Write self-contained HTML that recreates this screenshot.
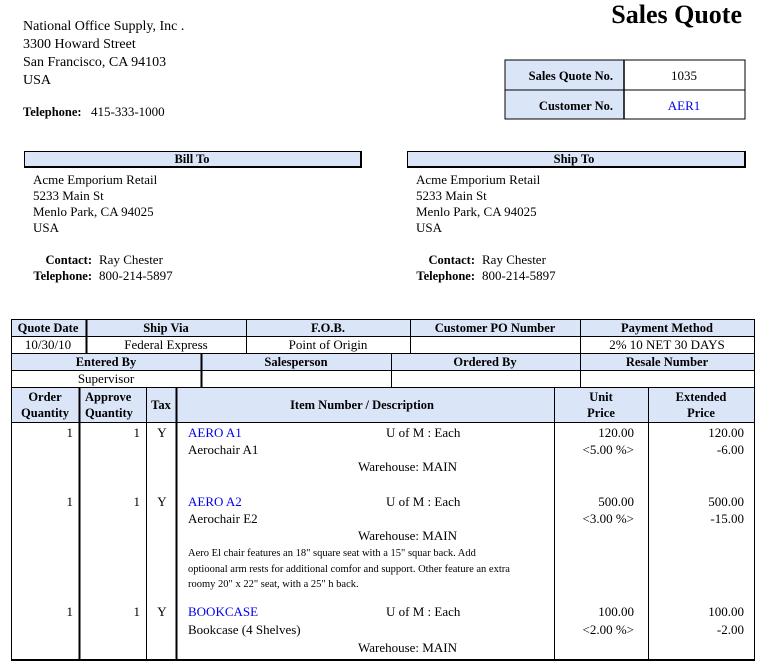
<!DOCTYPE html>
<html><head><meta charset="utf-8"><style>
html,body{margin:0;padding:0;background:#fff;width:768px;height:662px;overflow:hidden}
svg{display:block}
text{font-family:"Liberation Serif",serif;font-size:13px;fill:#000}
.b{font-weight:bold;font-size:12.5px}
.h{font-size:14px}
.bl{fill:#0000ee}
.s{font-size:10.5px}
</style></head><body>
<svg width="768" height="662" viewBox="0 0 768 662">
<text class="h" x="23" y="30">National Office Supply, Inc .</text>
<text class="h" x="23" y="48">3300  Howard Street</text>
<text class="h" x="23" y="66">San Francisco, CA 94103</text>
<text class="h" x="23" y="84">USA</text>
<text class="b" x="23" y="116">Telephone:</text>
<text x="91" y="116">415-333-1000</text>
<text x="742" y="23" text-anchor="end" style="font-size:26px;font-weight:bold">Sales Quote</text>
<rect x="505" y="60" width="119" height="59" fill="#dbe5f8"/>
<rect x="505" y="60" width="240" height="59" fill="none" stroke="#000" stroke-width="1"/>
<line x1="624" y1="60" x2="624" y2="119" stroke="#000" stroke-width="1.5"/>
<line x1="505" y1="90" x2="745" y2="90" stroke="#000"/>
<text class="b" x="613" y="80" text-anchor="end">Sales Quote No.</text>
<text class="b" x="613" y="110" text-anchor="end">Customer No.</text>
<text x="684" y="80" text-anchor="middle">1035</text>
<text class="bl" x="684" y="110" text-anchor="middle">AER1</text>
<rect x="24.5" y="151.5" width="336" height="15" fill="#dbe5f8" stroke="#000"/>
<line x1="361" y1="151" x2="361" y2="168" stroke="#000" stroke-width="2"/>
<line x1="24" y1="167" x2="362" y2="167" stroke="#000" stroke-width="2"/>
<text class="b" x="192" y="163" text-anchor="middle">Bill To</text>
<rect x="407.5" y="151.5" width="337" height="15" fill="#dbe5f8" stroke="#000"/>
<line x1="745" y1="151" x2="745" y2="168" stroke="#000" stroke-width="2"/>
<line x1="407" y1="167" x2="746" y2="167" stroke="#000" stroke-width="2"/>
<text class="b" x="574" y="163" text-anchor="middle">Ship To</text>
<g>
<text x="33" y="184">Acme Emporium Retail</text>
<text x="33" y="200">5233  Main St</text>
<text x="33" y="216">Menlo Park, CA  94025</text>
<text x="33" y="232">USA</text>
<text class="b" x="92" y="264" text-anchor="end">Contact:</text>
<text x="99" y="264">Ray Chester</text>
<text class="b" x="92" y="280" text-anchor="end">Telephone:</text>
<text x="99" y="280">800-214-5897</text>
<text x="416" y="184">Acme Emporium Retail</text>
<text x="416" y="200">5233  Main St</text>
<text x="416" y="216">Menlo Park, CA  94025</text>
<text x="416" y="232">USA</text>
<text class="b" x="475" y="264" text-anchor="end">Contact:</text>
<text x="482" y="264">Ray Chester</text>
<text class="b" x="475" y="280" text-anchor="end">Telephone:</text>
<text x="482" y="280">800-214-5897</text>
</g>
<rect x="11" y="319" width="744" height="17" fill="#dbe5f8"/>
<rect x="11" y="353" width="744" height="17" fill="#dbe5f8"/>
<rect x="11" y="387" width="744" height="35" fill="#dbe5f8"/>
<g stroke="#000" stroke-width="1">
<rect x="11.5" y="319.5" width="743" height="340" fill="none"/>
<line x1="11" y1="336.5" x2="755" y2="336.5"/>
<line x1="11" y1="353.5" x2="755" y2="353.5"/>
<line x1="11" y1="370.5" x2="755" y2="370.5"/>
<line x1="11" y1="387.5" x2="755" y2="387.5"/>
<line x1="11" y1="422.5" x2="755" y2="422.5"/>
<line x1="86.5" y1="319" x2="86.5" y2="353" stroke-width="2"/>
<line x1="246.5" y1="319" x2="246.5" y2="353"/>
<line x1="410.5" y1="319" x2="410.5" y2="353"/>
<line x1="580.5" y1="319" x2="580.5" y2="353"/>
<line x1="201.5" y1="353" x2="201.5" y2="387" stroke-width="2"/>
<line x1="391.5" y1="353" x2="391.5" y2="387"/>
<line x1="580.5" y1="353" x2="580.5" y2="387"/>
<line x1="79.5" y1="387" x2="79.5" y2="660" stroke-width="2"/>
<line x1="146.5" y1="387" x2="146.5" y2="660"/>
<line x1="176.5" y1="387" x2="176.5" y2="660" stroke-width="2"/>
<line x1="554.5" y1="387" x2="554.5" y2="660"/>
<line x1="648.5" y1="387" x2="648.5" y2="660"/>
<line x1="11" y1="660" x2="755" y2="660" stroke-width="2"/>
</g>
<text class="b" x="48" y="332" text-anchor="middle">Quote Date</text>
<text class="b" x="166" y="332" text-anchor="middle">Ship Via</text>
<text class="b" x="328" y="332" text-anchor="middle">F.O.B.</text>
<text class="b" x="495" y="332" text-anchor="middle">Customer PO Number</text>
<text class="b" x="667" y="332" text-anchor="middle">Payment Method</text>
<text x="48" y="349" text-anchor="middle">10/30/10</text>
<text x="166" y="349" text-anchor="middle">Federal Express</text>
<text x="328" y="349" text-anchor="middle">Point of Origin</text>
<text x="667" y="349" text-anchor="middle">2% 10 NET 30 DAYS</text>
<text class="b" x="106" y="366" text-anchor="middle">Entered By</text>
<text class="b" x="296" y="366" text-anchor="middle">Salesperson</text>
<text class="b" x="485" y="366" text-anchor="middle">Ordered By</text>
<text class="b" x="667" y="366" text-anchor="middle">Resale Number</text>
<text x="106" y="383" text-anchor="middle">Supervisor</text>
<text class="b" x="45" y="401" text-anchor="middle">Order</text>
<text class="b" x="45" y="417" text-anchor="middle">Quantity</text>
<text class="b" x="85" y="401">Approve</text>
<text class="b" x="85" y="417">Quantity</text>
<text class="b" x="161" y="409" text-anchor="middle">Tax</text>
<text class="b" x="362" y="409" text-anchor="middle">Item Number / Description</text>
<text class="b" x="601" y="401" text-anchor="middle">Unit</text>
<text class="b" x="601" y="417" text-anchor="middle">Price</text>
<text class="b" x="701" y="401" text-anchor="middle">Extended</text>
<text class="b" x="701" y="417" text-anchor="middle">Price</text>
<text x="73" y="437" text-anchor="end">1</text>
<text x="140" y="437" text-anchor="end">1</text>
<text x="162" y="437" text-anchor="middle">Y</text>
<text class="bl" x="188" y="437">AERO A1</text>
<text x="386" y="437">U of M : Each</text>
<text x="188" y="454">Aerochair A1</text>
<text x="358" y="471">Warehouse: MAIN</text>
<text x="634" y="437" text-anchor="end">120.00</text>
<text x="634" y="454" text-anchor="end">&lt;5.00 %&gt;</text>
<text x="744" y="437" text-anchor="end">120.00</text>
<text x="744" y="454" text-anchor="end">-6.00</text>
<text x="73" y="506" text-anchor="end">1</text>
<text x="140" y="506" text-anchor="end">1</text>
<text x="162" y="506" text-anchor="middle">Y</text>
<text class="bl" x="188" y="506">AERO A2</text>
<text x="386" y="506">U of M : Each</text>
<text x="188" y="523">Aerochair E2</text>
<text x="358" y="540">Warehouse: MAIN</text>
<text x="634" y="506" text-anchor="end">500.00</text>
<text x="634" y="523" text-anchor="end">&lt;3.00 %&gt;</text>
<text x="744" y="506" text-anchor="end">500.00</text>
<text x="744" y="523" text-anchor="end">-15.00</text>
<text class="s" x="188" y="556">Aero El chair features an 18" square seat with a 15" squar back.  Add</text>
<text class="s" x="188" y="572">optioonal arm rests for additional comfor and support.  Other feature an extra</text>
<text class="s" x="188" y="587">roomy 20" x 22" seat, with a 25" h back.</text>
<text x="73" y="616" text-anchor="end">1</text>
<text x="140" y="616" text-anchor="end">1</text>
<text x="162" y="616" text-anchor="middle">Y</text>
<text class="bl" x="188" y="616">BOOKCASE</text>
<text x="386" y="616">U of M : Each</text>
<text x="188" y="634">Bookcase (4 Shelves)</text>
<text x="358" y="652">Warehouse: MAIN</text>
<text x="634" y="616" text-anchor="end">100.00</text>
<text x="634" y="634" text-anchor="end">&lt;2.00 %&gt;</text>
<text x="744" y="616" text-anchor="end">100.00</text>
<text x="744" y="634" text-anchor="end">-2.00</text>
</svg>
</body></html>
